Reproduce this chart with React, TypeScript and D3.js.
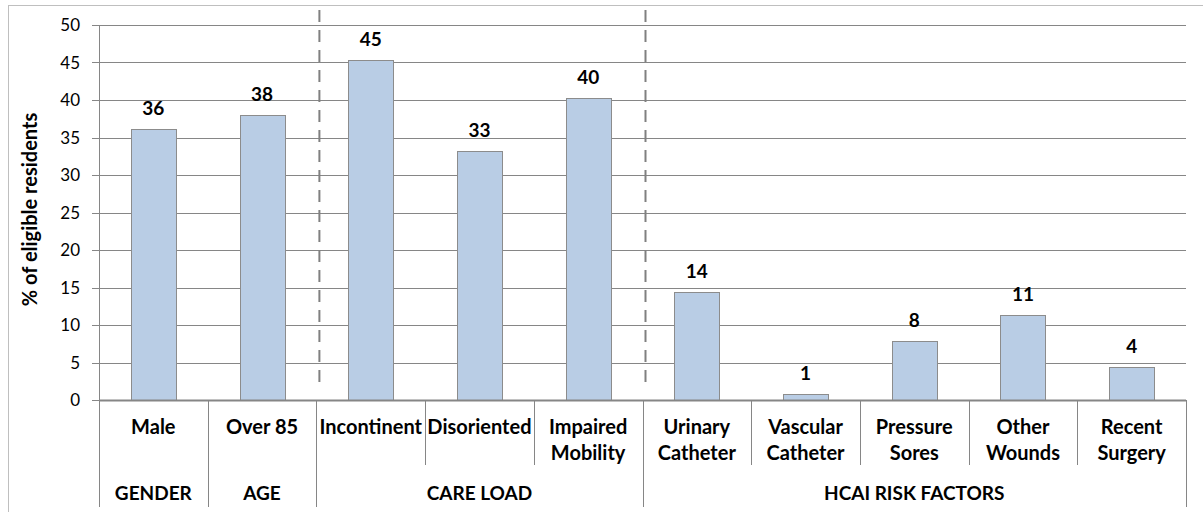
import React, { useEffect, useRef } from 'react';
import * as d3 from 'd3';

// data
const categoryLines: string[][] = [
  ['Male'],
  ['Over 85'],
  ['Incontinent'],
  ['Disoriented'],
  ['Impaired', 'Mobility'],
  ['Urinary', 'Catheter'],
  ['Vascular', 'Catheter'],
  ['Pressure', 'Sores'],
  ['Other', 'Wounds'],
  ['Recent', 'Surgery'],
];
const values: number[] = [36.1, 38.0, 45.4, 33.2, 40.3, 14.4, 0.8, 7.9, 11.4, 4.4];
const groupNames: string[] = ['GENDER', 'AGE', 'CARE LOAD', 'HCAI RISK FACTORS'];
const groupSizes: number[] = [1, 1, 3, 5];
const yTicks: number[] = [0, 5, 10, 15, 20, 25, 30, 35, 40, 45, 50];
const dashedAfterGroup: number[] = [1, 2]; // dashed divider after these groups

const FONT = 'Lato, Carlito, Calibri, sans-serif';
const GRID = '#868686';

const App = () => {
  const ref = useRef<SVGSVGElement>(null);

  useEffect(() => {
    const svg = d3.select(ref.current);
    svg.selectAll('*').remove();

    const W = 1203;
    const H = 512;
    const left = 99;
    const right = 1186;
    const top = 25;
    const bottom = 400;
    const rowBottom = 465;
    const groupBottom = 507;

    const idx = values.map((_, i) => String(i));
    const x = d3.scaleBand().domain(idx).range([left, right]).padding(0);
    const y = d3.scaleLinear().domain([0, 50]).range([bottom, top]);
    const barW = 45;

    // outer chart border
    svg.append('rect')
      .attr('x', 8.5).attr('y', 5.5)
      .attr('width', W + 10).attr('height', H + 10)
      .attr('fill', 'white')
      .attr('stroke', '#bfbfbf')
      .attr('stroke-width', 1);

    // gridlines + y ticks
    const g = svg.append('g');
    g.selectAll('line.grid')
      .data(yTicks)
      .enter()
      .append('line')
      .attr('x1', left - 7)
      .attr('x2', right)
      .attr('y1', d => Math.round(y(d)) + 0.5)
      .attr('y2', d => Math.round(y(d)) + 0.5)
      .attr('stroke', GRID)
      .attr('stroke-width', 1);

    g.selectAll('text.tick')
      .data(yTicks)
      .enter()
      .append('text')
      .attr('x', 80)
      .attr('y', d => y(d))
      .attr('dy', '0.36em')
      .attr('text-anchor', 'end')
      .attr('font-family', FONT)
      .attr('font-size', 17)
      .attr('fill', '#000')
      .text(d => d);

    // y axis title
    svg.append('text')
      .attr('transform', `translate(37,${(top + bottom) / 2 - 3}) rotate(-90)`)
      .attr('text-anchor', 'middle')
      .attr('font-family', FONT)
      .attr('font-weight', 'bold')
      .attr('font-size', 20)
      .text('% of eligible residents');

    // dashed group dividers
    const groupStarts: number[] = [];
    groupSizes.reduce((acc, n) => { groupStarts.push(acc); return acc + n; }, 0);
    dashedAfterGroup.forEach(gi => {
      const bi = groupStarts[gi] + groupSizes[gi];
      const xx = (x(String(bi)) as number) + 3;
      svg.append('line')
        .attr('x1', xx).attr('x2', xx)
        .attr('y1', 10).attr('y2', 390)
        .attr('stroke', '#808080')
        .attr('stroke-width', 2)
        .attr('stroke-dasharray', '12,8');
    });

    // bars
    svg.selectAll('rect.bar')
      .data(values)
      .enter()
      .append('rect')
      .attr('x', (_, i) => Math.round((x(String(i)) as number) + x.bandwidth() / 2 - barW / 2) + 0.5)
      .attr('y', d => Math.round(y(d)) + 0.5)
      .attr('width', barW)
      .attr('height', d => bottom - Math.round(y(d)))
      .attr('fill', '#b9cde5')
      .attr('stroke', '#8c8c8c')
      .attr('stroke-width', 1);

    // value labels
    svg.selectAll('text.val')
      .data(values)
      .enter()
      .append('text')
      .attr('x', (_, i) => (x(String(i)) as number) + x.bandwidth() / 2)
      .attr('y', d => y(d) - 14)
      .attr('text-anchor', 'middle')
      .attr('font-family', FONT)
      .attr('font-weight', 'bold')
      .attr('font-size', 19)
      .text(d => d3.format('.0f')(d));

    // axis lines
    svg.append('line')
      .attr('x1', left).attr('x2', right)
      .attr('y1', bottom + 0.5).attr('y2', bottom + 0.5)
      .attr('stroke', GRID).attr('stroke-width', 2);
    svg.append('line')
      .attr('x1', left + 0.5).attr('x2', left + 0.5)
      .attr('y1', top).attr('y2', groupBottom)
      .attr('stroke', GRID).attr('stroke-width', 1);

    // category separators
    const groupEdges = new Set<number>();
    groupStarts.forEach((s, i) => { groupEdges.add(s); groupEdges.add(s + groupSizes[i]); });
    d3.range(1, values.length + 1).forEach(bi => {
      const xx = Math.round(bi < values.length ? (x(String(bi)) as number) : right) + 0.5;
      svg.append('line')
        .attr('x1', xx).attr('x2', xx)
        .attr('y1', bottom)
        .attr('y2', groupEdges.has(bi) ? groupBottom : rowBottom)
        .attr('stroke', GRID).attr('stroke-width', 1);
    });

    // category labels
    categoryLines.forEach((lines, i) => {
      const cx = (x(String(i)) as number) + x.bandwidth() / 2;
      lines.forEach((ln, li) => {
        svg.append('text')
          .attr('x', cx)
          .attr('y', 434 + li * 26)
          .attr('text-anchor', 'middle')
          .attr('font-family', FONT)
          .attr('font-weight', 'bold')
          .attr('font-size', 20)
          .text(ln);
      });
    });

    // group labels
    groupNames.forEach((name, gi) => {
      const x0 = x(String(groupStarts[gi])) as number;
      const endI = groupStarts[gi] + groupSizes[gi];
      const x1 = endI < values.length ? (x(String(endI)) as number) : right;
      svg.append('text')
        .attr('x', (x0 + x1) / 2)
        .attr('y', 500)
        .attr('text-anchor', 'middle')
        .attr('font-family', FONT)
        .attr('font-weight', 'bold')
        .attr('font-size', 19)
        .text(name);
    });
  }, []);

  return (
    <svg
      ref={ref}
      width={1203}
      height={512}
      style={{ position: 'absolute', left: 0, top: 0, background: 'white' }}
    />
  );
};

export default App;
